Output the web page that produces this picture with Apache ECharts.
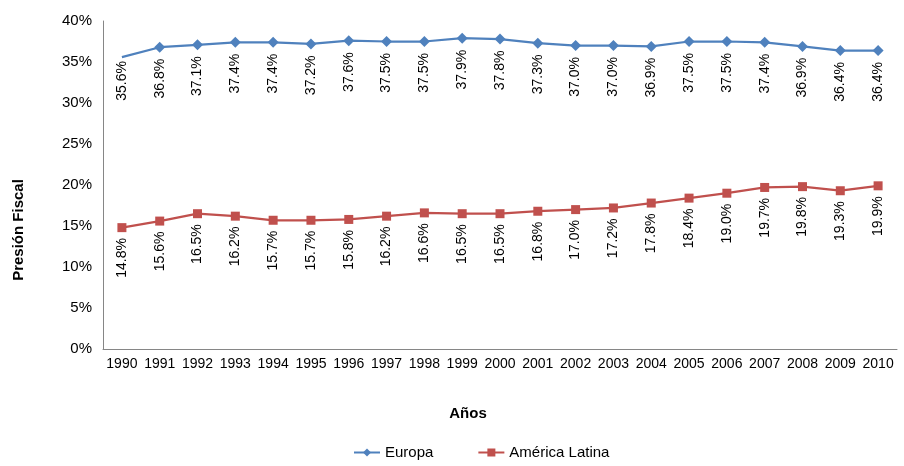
<!DOCTYPE html>
<html>
<head>
<meta charset="utf-8">
<script src="https://cdn.jsdelivr.net/npm/echarts@6/dist/echarts.min.js"></script>
<style>html,body{margin:0;padding:0;background:#fff}#c{width:904px;height:466px}</style>
</head>
<body>
<div id="c"></div>
<script>
var years = ['1990','1991','1992','1993','1994','1995','1996','1997','1998','1999','2000','2001','2002','2003','2004','2005','2006','2007','2008','2009','2010'];
var europa = [35.6, 36.8, 37.1, 37.4, 37.4, 37.2, 37.6, 37.5, 37.5, 37.9, 37.8, 37.3, 37.0, 37.0, 36.9, 37.5, 37.5, 37.4, 36.9, 36.4, 36.4];
var latina = [14.8, 15.6, 16.5, 16.2, 15.7, 15.7, 15.8, 16.2, 16.6, 16.5, 16.5, 16.8, 17.0, 17.2, 17.8, 18.4, 19.0, 19.7, 19.8, 19.3, 19.9];
var seriesNames = ['Europa', 'América Latina'];
var yTicks = {min: 0, max: 40, interval: 5};

var FONT = 'Liberation Sans, Arial, sans-serif';
var chart = echarts.init(document.getElementById('c'), null, {renderer: 'canvas'});

function lbl() {
  return {
    show: true,
    position: 'bottom',
    distance: 6,
    rotate: 90,
    align: 'right',
    verticalAlign: 'middle',
    color: '#000',
    fontFamily: FONT,
    fontSize: 14,
    formatter: function (p) { return p.value.toFixed(1) + '%'; }
  };
}

var europaData = europa.map(function (v, i) {
  return i === 0 ? {value: v, symbolSize: 0, label: {distance: 4}} : v;
});

chart.setOption({
  animation: false,
  backgroundColor: '#fff',
  grid: {left: 103, right: 7, top: 21, bottom: 117, containLabel: false},
  legend: {
    bottom: 1,
    left: 348,
    itemGap: 44,
    itemWidth: 26,
    itemHeight: 10,
    textStyle: {fontFamily: FONT, fontSize: 15, color: '#000'},
    data: seriesNames
  },
  xAxis: {
    type: 'category',
    data: years,
    boundaryGap: true,
    axisLine: {lineStyle: {color: '#868686', width: 1}},
    axisTick: {show: false},
    axisLabel: {color: '#000', fontFamily: FONT, fontSize: 14, margin: 8, interval: 0}
  },
  yAxis: {
    type: 'value',
    min: yTicks.min, max: yTicks.max, interval: yTicks.interval,
    splitLine: {show: false},
    axisLine: {show: true, lineStyle: {color: '#868686', width: 1}},
    axisTick: {show: false},
    axisLabel: {color: '#000', fontFamily: FONT, fontSize: 15, margin: 11, formatter: '{value}%'}
  },
  graphic: [
    {type: 'text', x: 19, y: 230, rotation: Math.PI / 2,
     style: {text: 'Presión Fiscal', fontFamily: FONT, fontSize: 15, fontWeight: 'bold', fill: '#000', align: 'center', verticalAlign: 'middle'}},
    {type: 'text', x: 468, y: 414,
     style: {text: 'Años', fontFamily: FONT, fontSize: 15, fontWeight: 'bold', fill: '#000', align: 'center', verticalAlign: 'middle'}}
  ],
  series: [
    {
      name: seriesNames[0], type: 'line', data: europaData,
      symbol: 'diamond', symbolSize: 11,
      itemStyle: {color: '#4F81BD'},
      lineStyle: {color: '#4F81BD', width: 2.25},
      label: lbl()
    },
    {
      name: seriesNames[1], type: 'line', data: latina,
      symbol: 'rect', symbolSize: 9,
      itemStyle: {color: '#C0504D'},
      lineStyle: {color: '#C0504D', width: 2.25},
      label: lbl()
    }
  ]
});
</script>
</body>
</html>
